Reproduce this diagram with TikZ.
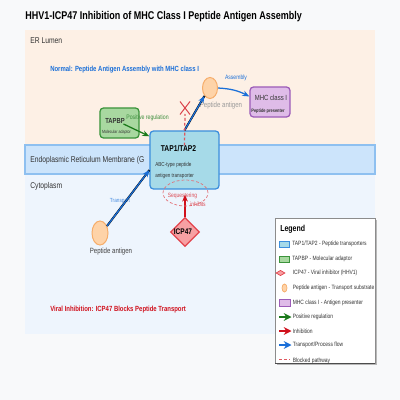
\documentclass[tikz,border=0pt]{standalone}
\usepackage{fontspec}
\setmainfont{Liberation Sans}[FakeStretch=0.8]
\usetikzlibrary{shapes.geometric,arrows.meta}
\definecolor{pagegray}{HTML}{F8F9FA}
\definecolor{lumenpeach}{HTML}{FDF0E5}
\definecolor{membraneblue}{HTML}{CCE4FB}
\definecolor{membraneedge}{HTML}{8EC0F0}
\definecolor{cytoblue}{HTML}{EEF5FD}
\definecolor{tapfill}{HTML}{A6DAE8}
\definecolor{tapedge}{HTML}{3D8FDD}
\definecolor{tapbpfill}{HTML}{A8D8A0}
\definecolor{tapbpedge}{HTML}{3C943C}
\definecolor{mhcfill}{HTML}{DFBCE8}
\definecolor{mhcedge}{HTML}{9C5CB8}
\definecolor{pepfill}{HTML}{FED3A8}
\definecolor{pepedge}{HTML}{F6AD6A}
\definecolor{icpfill}{HTML}{F7A0A3}
\definecolor{icpedge}{HTML}{E2434C}
\definecolor{flowblue}{HTML}{1A6FD8}
\definecolor{posgreen}{HTML}{1B7A1B}
\definecolor{inhibred}{HTML}{D0101C}
\definecolor{textgray}{HTML}{333333}

\tikzset{
  fs/.style={font=\fontsize{#1pt}{#1pt}\selectfont},
  fsb/.style={font=\fontsize{#1pt}{#1pt}\selectfont\bfseries},
  txt/.style={inner sep=0pt, textgray},
  regionlabel/.style={txt, anchor=west, fs=6},
  protbox/.style={draw, rounded corners=2.5pt, line width=0.9pt, inner sep=0pt},
  pepshape/.style={ellipse, draw=pepedge, fill=pepfill, line width=0.7pt, inner sep=0pt},
  flow/.style={flowblue, line width=0.9pt, -{Stealth[length=5pt,width=4pt]}},
  flowshade/.style={black, line width=1.4pt},
  posreg/.style={posgreen, line width=0.9pt, -{Stealth[length=5pt,width=4pt]}},
  inhib/.style={inhibred, line width=0.9pt, -{Stealth[length=5pt,width=4pt]}},
  blocked/.style={inhibred!70, line width=0.9pt, dash pattern=on 2pt off 1.5pt},
  legendtext/.style={txt, anchor=west, fs=4.4},
  legendarrow/.style={line width=1pt, -{Stealth[length=5.5pt,width=5.5pt]}}
}

\begin{document}
\begin{tikzpicture}[x=0.025cm, y=-0.025cm]
    % Page and compartments
    \fill[pagegray] (0,0) rectangle (400,400);
    \node[txt, anchor=west, fsb=8, black] (title) at (25,17) {HHV1-ICP47 Inhibition of MHC Class I Peptide Antigen Assembly};
    \fill[lumenpeach] (25,30) rectangle (375,145);
    \fill[cytoblue] (25,174) rectangle (375,334);
    \filldraw[fill=membraneblue, draw=membraneedge, line width=0.8pt] (25,145) rectangle (375,174);
    \node[regionlabel] (lumen) at (30,41) {ER Lumen};
    \node[regionlabel] (membrane) at (30,160) {Endoplasmic Reticulum Membrane (G};
    \node[regionlabel] (cytoplasm) at (30,186) {Cytoplasm};

    % Headings of the two states
    \node[txt, anchor=west, fsb=5.3, flowblue] (normal) at (50,70) {Normal: Peptide Antigen Assembly with MHC class I};
    \node[txt, anchor=west, fsb=5.3, inhibred] (viral) at (50,310) {Viral Inhibition: ICP47 Blocks Peptide Transport};

    % Molecules
    \node[pepshape, minimum width=0.375cm, minimum height=0.525cm] (peptop) at (210,88) {};
    \node[txt, fs=5.4, black!40] (peptoplabel) at (221,106) {Peptide antigen};
    \node[protbox, draw=mhcedge, fill=mhcfill, minimum width=1cm, minimum height=0.75cm] (mhc) at (270,102) {};
    \node[txt, fs=5.3] (mhclabel) at (271,98) {MHC class I};
    \node[txt, fsb=3.5] (mhcrole) at (268,111) {Peptide presenter};
    \node[protbox, draw=tapbpedge, fill=tapbpfill, minimum width=0.975cm, minimum height=0.75cm] (tapbp) at (119.5,123) {};
    \node[txt, fsb=5.2] (tapbplabel) at (115,121) {TAPBP};
    \node[txt, fs=3.2] (tapbprole) at (116.5,132) {Molecular adaptor};
    \node[pepshape, minimum width=0.4cm, minimum height=0.6cm] (pepbot) at (100,233) {};
    \node[txt, fs=5.4, black!75] (pepbotlabel) at (111,252) {Peptide antigen};

    % TAP1/TAP2 transporter across the membrane
    \node[protbox, draw=tapedge, fill=tapfill, minimum width=1.725cm, minimum height=1.45cm] (tap) at (184.5,160) {};
    \node[txt, fsb=6, black] (taplabel) at (178.5,149) {TAP1/TAP2};
    \node[txt, anchor=west, fs=4.1] (taprole) at (155,165) {ABC-type peptide};
    \node[txt, anchor=west, fs=4.1] (taprole2) at (155,176) {antigen transporter};

    % Arrows into and out of the transporter
    \node[txt, fs=4.2, flowblue!80] (transportlabel) at (120,201) {Transport};
    \node[txt, fs=4.6, posgreen!85] (poslabel) at (147.5,118) {Positive regulation};
    \node[txt, fs=4.5, flowblue] (assemblylabel) at (236,78) {Assembly};
    \draw[flowshade] (pepbot.45) -- (tap.196);
    \draw[flow, xshift=-0.4pt, yshift=0.4pt] (pepbot.45) -- (tap.196);
    \draw[posreg] ([shift={(4,1)}]tapbp.center) -- (tap.146);
    \draw[flowshade] (tap.north) -- (peptop.235);
    \draw[flow, xshift=-0.4pt, yshift=0.4pt] (tap.north) -- (peptop.235);
    \draw[flow] (peptop.east) to[bend left=12] (mhc.165);

    % Blocked route to the lumen
    \coordinate (blockx) at (185,108);
    \draw[blocked] ([shift={(0,15)}]tap.north) -- ([shift={(0,6)}]blockx);
    \draw[inhibred!80, line width=0.7pt] ([shift={(-5,-6.5)}]blockx) -- ([shift={(5,6.5)}]blockx);
    \draw[inhibred!80, line width=0.7pt] ([shift={(5,-6.5)}]blockx) -- ([shift={(-5,6.5)}]blockx);

    % ICP47 sequestering TAP
    \node[diamond, draw=icpedge, fill=icpfill, line width=0.8pt, inner sep=0pt, minimum width=0.725cm, minimum height=0.725cm] (icp) at (185,232) {};
    \node[txt, fsb=5.8, black] (icplabel) at (183,232) {ICP47};
    \draw[inhib, shorten >=3.5pt] (icp.north) -- (icp.north |- tap.south);
    \node[ellipse, draw=inhibred!60, dash pattern=on 2pt off 1.5pt, line width=0.5pt, minimum width=1.125cm, minimum height=0.65cm] (seq) at (185.5,193) {};
    \node[txt, fs=4.4, inhibred!75] (seqlabel) at (182.5,196) {Sequestering};
    \node[txt, fs=4.4, inhibred!75] (seqlabel2) at (198,204) {inhibits};

    % Legend
    \fill[black!28] (276.5,219.5) rectangle (376.5,364.5);
    \filldraw[fill=white, draw=black!45, line width=0.5pt] (275,218) rectangle (375,363);
    \node[txt, anchor=west, fsb=6.2, black] (legendtitle) at (280,229) {Legend};
    \node[draw=tapedge, fill=tapfill, line width=0.5pt, inner sep=0pt, minimum width=0.25cm, minimum height=0.15cm] (keytap) at (284,244) {};
    \node[legendtext] (keytaptext) at (292,244) {TAP1/TAP2 - Peptide transporters};
    \node[draw=tapbpedge, fill=tapbpfill, line width=0.5pt, inner sep=0pt, minimum width=0.25cm, minimum height=0.15cm] (keytapbp) at (284,259) {};
    \node[legendtext] (keytapbptext) at (292,259) {TAPBP - Molecular adaptor};
    \node[diamond, draw=icpedge, fill=icpfill, line width=0.5pt, inner sep=0pt, minimum width=0.225cm, minimum height=0.135cm] (keyicp) at (280.5,273) {};
    \node[legendtext] (keyicptext) at (292.5,273) {ICP47 - Viral inhibitor (HHV1)};
    \node[pepshape, line width=0.5pt, minimum width=0.125cm, minimum height=0.2cm] (keypep) at (284.5,288) {};
    \node[legendtext] (keypeptext) at (292.5,288) {Peptide antigen - Transport substrate};
    \node[draw=mhcedge, fill=mhcfill, line width=0.5pt, inner sep=0pt, minimum width=0.275cm, minimum height=0.17cm] (keymhc) at (284.5,302.5) {};
    \node[legendtext] (keymhctext) at (292.5,302.5) {MHC class I - Antigen presenter};
    \draw[legendarrow, posgreen] (279,317) -- (291.5,317);
    \node[legendtext] (keypostext) at (292.5,317) {Positive regulation};
    \draw[legendarrow, inhibred] (279,331) -- (291.5,331);
    \node[legendtext] (keyinhtext) at (292.5,331) {Inhibition};
    \draw[legendarrow, flowblue] (279,345) -- (291.5,345);
    \node[legendtext] (keyflowtext) at (292.5,345) {Transport/Process flow};
    \draw[blocked] (279,359.7) -- (290,359.7);
    \node[legendtext] (keyblocktext) at (292.5,360.5) {Blocked pathway};
    \draw[black!70, line width=0.6pt] (275,363) -- (375,363);
\end{tikzpicture}
\end{document}
